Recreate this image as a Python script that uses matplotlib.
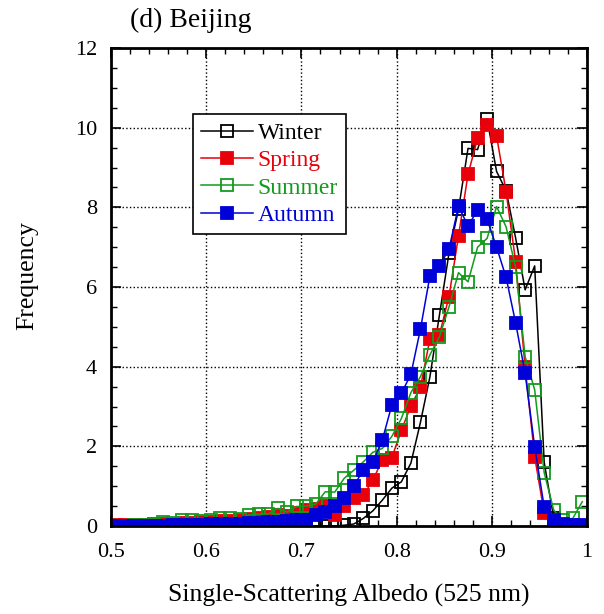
import numpy as np
import matplotlib
matplotlib.use('Agg')
import matplotlib.pyplot as plt
from matplotlib.ticker import MultipleLocator

# bin centres of single-scattering albedo (525 nm)
ssa = np.round(np.arange(0.505, 1.0, 0.01), 3)

winter = [0.0, 0.0, 0.0, 0.0, 0.0, 0.0, 0.0, 0.0, 0.0, 0.0,
          0.0, 0.0, 0.0, 0.0, 0.0, 0.0, 0.0, 0.0, 0.0, 0.0,
          0.0, 0.0, 0.0, 0.0, 0.02, 0.05, 0.19, 0.38, 0.65, 0.95,
          1.11, 1.58, 2.6, 3.75, 5.3, 6.85, 7.95, 9.48, 9.45, 10.22,
          8.9, 8.42, 7.23, 5.93, 6.53, 1.6, 0.2, 0.03, 0.0, 0.0]
spring = [0.02, 0.02, 0.03, 0.03, 0.04, 0.05, 0.06, 0.07, 0.08, 0.09,
          0.1, 0.12, 0.12, 0.15, 0.18, 0.19, 0.23, 0.28, 0.25, 0.32,
          0.4, 0.42, 0.5, 0.28, 0.5, 0.7, 0.77, 1.15, 1.66, 1.72,
          2.4, 3.02, 3.48, 4.7, 4.8, 5.76, 7.28, 8.83, 9.73, 10.07,
          9.79, 8.39, 6.64, 3.98, 1.74, 0.33, 0.02, 0.0, 0.0, 0.0]
summer = [0.0, 0.0, 0.02, 0.03, 0.05, 0.1, 0.08, 0.15, 0.15, 0.12,
          0.16, 0.19, 0.2, 0.18, 0.28, 0.3, 0.3, 0.44, 0.35, 0.49,
          0.5, 0.55, 0.86, 0.85, 1.2, 1.4, 1.61, 1.85, 1.95, 2.25,
          2.7, 3.35, 3.75, 4.3, 4.75, 5.5, 6.36, 6.13, 7.0, 7.22,
          8.02, 7.51, 6.5, 4.25, 3.42, 1.34, 0.4, 0.15, 0.19, 0.61]
autumn = [0.0, 0.0, 0.0, 0.0, 0.01, 0.01, 0.02, 0.02, 0.03, 0.03,
          0.04, 0.05, 0.05, 0.06, 0.07, 0.08, 0.1, 0.1, 0.12, 0.15,
          0.15, 0.28, 0.36, 0.5, 0.7, 1.0, 1.41, 1.6, 2.16, 3.04,
          3.33, 3.81, 4.94, 6.28, 6.53, 6.95, 8.03, 7.53, 7.93, 7.7,
          7.0, 6.24, 5.1, 3.83, 1.99, 0.48, 0.15, 0.05, 0.03, 0.02]

seasons = ['Winter', 'Spring', 'Summer', 'Autumn']
colors = ['black', '#e8000b', '#139a1c', '#0000d8']
filled = [False, True, False, True]

plt.rcParams['font.family'] = ['Liberation Serif', 'DejaVu Serif']

fig = plt.figure(figsize=(6.04, 6.14), dpi=100)
ax = fig.add_axes([0.1838, 0.1433, 0.7881, 0.7785])

for name, vals, c, f in zip(seasons, [winter, spring, summer, autumn], colors, filled):
    ax.plot(ssa, vals, color=c, lw=1.1, marker='s', ms=8.4,
            mfc=c if f else 'none', mec=c, mew=1.3, label=name)

ax.set_xlim(0.5, 1.0)
ax.set_ylim(0, 12)
ax.xaxis.set_minor_locator(MultipleLocator(0.02))
ax.yaxis.set_major_locator(MultipleLocator(2))
ax.yaxis.set_minor_locator(MultipleLocator(0.5))
ax.set_xticks([0.5, 0.6, 0.7, 0.8, 0.9, 1.0])
ax.set_xticklabels(['0.5', '0.6', '0.7', '0.8', '0.9', '1'])
ax.tick_params(which='both', direction='in', top=True, right=True, labelsize=16)
ax.tick_params(which='major', length=7, width=1.2, pad=10)
ax.tick_params(axis='x', which='major', pad=12)
ax.tick_params(which='minor', length=4, width=1.0)
ax.grid(True, which='major', color='black', ls=':', lw=1.0)
for sp in ax.spines.values():
    sp.set_linewidth(2)

ax.set_xlabel('Single-Scattering Albedo (525 nm)', fontsize=18.5, labelpad=16)
ax.set_ylabel('Frequency', fontsize=18.5)
ax.yaxis.set_label_coords(-0.153, 0.523)
fig.text(0.215, 0.966, '(d) Beijing', fontsize=20, ha='left', va='center')

leg = ax.legend(loc='upper left', bbox_to_anchor=(0.172, 0.862), fontsize=17,
                frameon=True, fancybox=False, edgecolor='black', framealpha=1,
                handlelength=2.2, handletextpad=0.2, borderpad=0.35, labelspacing=0.25,
                borderaxespad=0)
leg.get_frame().set_linewidth(1.2)
for txt, c in zip(leg.get_texts(), colors):
    txt.set_color(c)

fig.savefig('out.png', dpi=100)
